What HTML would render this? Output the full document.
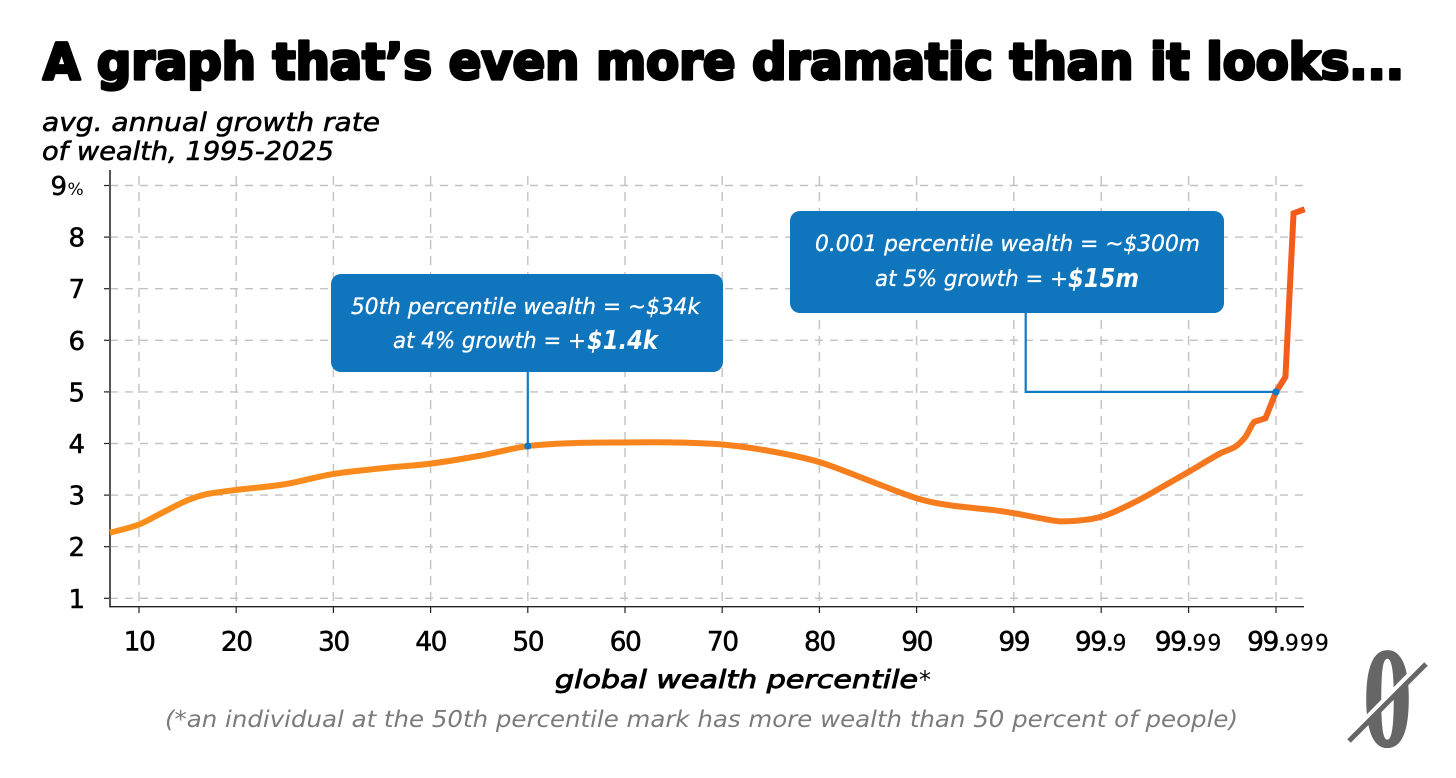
<!DOCTYPE html>
<html lang="en">
<head>
<meta charset="utf-8">
<title>A graph that's even more dramatic than it looks</title>
<style>
html,body{margin:0;padding:0;background:#fff;}
svg{display:block;}
text{font-family:"DejaVu Sans","Liberation Sans",sans-serif;}
</style>
</head>
<body>
<svg id="chart" xmlns="http://www.w3.org/2000/svg" width="1456" height="778" viewBox="0 0 1456 778">
  <defs>
    <linearGradient id="lineGrad" gradientUnits="userSpaceOnUse" x1="110" y1="0" x2="1304" y2="0">
      <stop offset="0" stop-color="#fb8f1b"/>
      <stop offset="0.5" stop-color="#f8821d"/>
      <stop offset="0.95" stop-color="#f5761f"/>
      <stop offset="0.985" stop-color="#f45c1a"/>
      <stop offset="1" stop-color="#f45a18"/>
    </linearGradient>
  </defs>
  <rect width="1456" height="778" fill="#fff"/>

  <text x="43" y="79" font-size="50" font-weight="700" fill="#000" stroke="#000" stroke-width="3.2" stroke-linejoin="round" textLength="1361" lengthAdjust="spacingAndGlyphs">A graph that’s even more dramatic than it looks...</text>

  <g font-size="25.5" font-style="italic" fill="#000" stroke="#000" stroke-width="0.6">
    <text x="42" y="131" textLength="338" lengthAdjust="spacingAndGlyphs">avg. annual growth rate</text>
    <text x="42" y="160" textLength="292" lengthAdjust="spacingAndGlyphs">of wealth, 1995-2025</text>
  </g>

  <g id="grid"></g>
  <g id="axes"></g>
  <g id="series"></g>

  <g id="annotation-lines"></g>

  <g>
    <rect x="331" y="274" width="392" height="98" rx="10" fill="#0f75bc"/>
    <g font-style="italic" fill="#fff" font-size="22.5">
      <text x="351" y="314" stroke="#fff" stroke-width="0.3" textLength="349" lengthAdjust="spacingAndGlyphs">50th percentile wealth = ~$34k</text>
      <text x="393" y="348" stroke="#fff" stroke-width="0.3" textLength="193" lengthAdjust="spacingAndGlyphs">at 4% growth = +</text>
      <text x="587" y="349" font-size="26" font-weight="700" textLength="71" lengthAdjust="spacingAndGlyphs">$1.4k</text>
    </g>
  </g>

  <g>
    <rect x="790" y="211" width="434" height="102" rx="10" fill="#0f75bc"/>
    <g font-style="italic" fill="#fff" font-size="22.5">
      <text x="815" y="251" stroke="#fff" stroke-width="0.3" textLength="385" lengthAdjust="spacingAndGlyphs">0.001 percentile wealth = ~$300m</text>
      <text x="875" y="286" stroke="#fff" stroke-width="0.3" textLength="193" lengthAdjust="spacingAndGlyphs">at 5% growth = +</text>
      <text x="1068" y="287" font-size="26" font-weight="700" textLength="71" lengthAdjust="spacingAndGlyphs">$15m</text>
    </g>
  </g>

  <g id="annotation-dots"></g>

  <text x="555" y="688" font-size="25" font-style="italic" fill="#000" stroke="#000" stroke-width="0.9" textLength="363" lengthAdjust="spacingAndGlyphs">global wealth percentile</text>
  <text x="919" y="688" font-size="24" fill="#000">*</text>
  <text x="165" y="727" font-size="23.5" font-style="italic" fill="#7b7b7b" textLength="1073" lengthAdjust="spacingAndGlyphs">(*an individual at the 50th percentile mark has more wealth than 50 percent of people)</text>

  <g>
    <text x="1363" y="746" font-size="143" font-weight="700" fill="#666" stroke="#666" stroke-width="1.5" style="font-family:'Liberation Serif',serif" textLength="49" lengthAdjust="spacingAndGlyphs">0</text>
    <line x1="1350" y1="735" x2="1424" y2="660" stroke="#fff" stroke-width="5"/>
    <line x1="1349" y1="741" x2="1426" y2="664" stroke="#666" stroke-width="5"/>
  </g>
</svg>

<script>
// ---- chart data ----
const xTickValues = [10, 20, 30, 40, 50, 60, 70, 80, 90, 99, 99.9, 99.99, 99.999];
const xTickLabels = ['10', '20', '30', '40', '50', '60', '70', '80', '90', '99', '99.|9', '99.|99', '99.|999'];
const yTickValues = [1, 2, 3, 4, 5, 6, 7, 8, 9];
const yTickLabels = ['1', '2', '3', '4', '5', '6', '7', '8', '9'];
const percentiles = [7, 10, 12.5, 15, 17, 20, 25, 30, 35, 40, 45, 50, 55, 60, 65, 70, 75, 80, 85, 90, 95.17, 98.37, 99, 99.51, 99.73, 99.9, 99.9624, 99.9805, 99.99, 99.99566, 99.99708, 99.99776, 99.99823, 99.99868, 99.999, 99.99922, 99.99937, 99.99953];
const growthRates = [2.27, 2.43, 2.67, 2.9, 3.02, 3.1, 3.21, 3.41, 3.52, 3.61, 3.76, 3.95, 4.01, 4.02, 4.02, 3.98, 3.85, 3.64, 3.29, 2.94, 2.81, 2.71, 2.65, 2.55, 2.49, 2.58, 2.9, 3.17, 3.45, 3.81, 3.94, 4.13, 4.42, 4.49, 5.0, 5.29, 8.46, 8.54];
const calloutPercentiles = [50, 99.999];
const calloutGrowth = [3.95, 5];
const straightFromPercentile = 99.99823;

// ---- axis functions ----
const NS = 'http://www.w3.org/2000/svg';
function xIndex(p) {
  if (p <= 90) return (p - 10) / 10;
  return 8 + Math.log10(10 / (100 - p));
}
function xScale(p) {
  const i = xIndex(p);
  return i <= 9 ? 139 + 97.2 * i : 1013.8 + 87.4 * (i - 9);
}
function yScale(v) {
  return 598.3 - 51.6 * (v - 1);
}
function make(tag, attrs, parent) {
  const el = document.createElementNS(NS, tag);
  for (const k in attrs) el.setAttribute(k, attrs[k]);
  parent.appendChild(el);
  return el;
}

const grid = document.getElementById('grid');
const axes = document.getElementById('axes');
const series = document.getElementById('series');
const connectors = document.getElementById('annotation-lines');
const dots = document.getElementById('annotation-dots');
const AXIS_LEFT = 110, AXIS_RIGHT = 1304, AXIS_BOTTOM = 606.7, AXIS_TOP = 170;

// gridlines and y ticks
yTickValues.forEach(function (v, i) {
  const y = yScale(v);
  const g = make('line', {x1: AXIS_LEFT, x2: AXIS_RIGHT, y1: y, y2: y, stroke: '#c2c2c2', 'stroke-width': 1.4, 'stroke-dasharray': '8 7'}, grid);
  
  
  const t = make('line', {x1: 104, x2: AXIS_LEFT, y1: y, y2: y, stroke: '#222', 'stroke-width': 1.2}, axes);
  
  
  const lab = make('text', {x: 85, y: y + 9.5, 'font-size': 26, 'text-anchor': 'end', fill: '#000', stroke: '#000', 'stroke-width': 0.5}, axes);
  
  
  if (i === yTickValues.length - 1) {
    lab.setAttribute('x', 67);
    const pct = make('text', {x: 67.5, y: y + 9.5, 'font-size': 17, fill: '#000'}, axes);
    
    
    pct.textContent = '%';
  }
  lab.textContent = yTickLabels[i];
});

// vertical gridlines, x ticks and labels
xTickValues.forEach(function (p, i) {
  const x = xScale(p);
  const g = make('line', {x1: x, x2: x, y1: 176, y2: AXIS_BOTTOM, stroke: '#c2c2c2', 'stroke-width': 1.4, 'stroke-dasharray': '9 7'}, grid);
  
  
  const t = make('line', {x1: x, x2: x, y1: AXIS_BOTTOM, y2: 613, stroke: '#222', 'stroke-width': 1.2}, axes);
  
  
  const parts = xTickLabels[i].split('|');
  const lab = make('text', {x: i === xTickValues.length - 1 ? x + 12.5 : x, y: 650.7, 'font-size': 26.5, 'text-anchor': 'middle', fill: '#000', stroke: '#000', 'stroke-width': 0.5}, axes);
  
  
  const main = make('tspan', {'letter-spacing': -1.5}, lab);
  main.textContent = parts[0];
  if (parts[1]) {
    const small = make('tspan', {'font-size': 22, 'letter-spacing': 1, 'stroke-width': 0.2}, lab);
    small.textContent = parts[1];
  }
});

// axis lines
const yAxisLine = make('line', {x1: AXIS_LEFT, x2: AXIS_LEFT, y1: AXIS_TOP, y2: AXIS_BOTTOM + 0.7, stroke: '#555', 'stroke-width': 2}, axes);


const xAxisLine = make('line', {x1: AXIS_LEFT, x2: AXIS_RIGHT, y1: AXIS_BOTTOM, y2: AXIS_BOTTOM, stroke: '#222', 'stroke-width': 1.4}, axes);



// smooth series path (cubic through the points), straight over the final kinked stretch
function seriesPath(ps, xs, ys) {
  const n = xs.length, m = [];
  m[0] = (ys[1] - ys[0]) / (xs[1] - xs[0]);
  m[n - 1] = (ys[n - 1] - ys[n - 2]) / (xs[n - 1] - xs[n - 2]);
  for (let i = 1; i < n - 1; i++) m[i] = (ys[i + 1] - ys[i - 1]) / (xs[i + 1] - xs[i - 1]);
  let s = 'M' + xs[0].toFixed(2) + ' ' + ys[0].toFixed(2);
  for (let i = 0; i < n - 1; i++) {
    if (ps[i] >= straightFromPercentile) {
      s += ' L' + xs[i + 1].toFixed(2) + ' ' + ys[i + 1].toFixed(2);
      continue;
    }
    const h = (xs[i + 1] - xs[i]) / 3;
    s += ' C' + (xs[i] + h).toFixed(2) + ' ' + (ys[i] + m[i] * h).toFixed(2) + ' ' +
      (xs[i + 1] - h).toFixed(2) + ' ' + (ys[i + 1] - m[i + 1] * h).toFixed(2) + ' ' +
      xs[i + 1].toFixed(2) + ' ' + ys[i + 1].toFixed(2);
  }
  return s;
}
const px = percentiles.map(xScale);
const py = growthRates.map(yScale);
const curve = make('path', {d: seriesPath(percentiles, px, py), fill: 'none', stroke: 'url(#lineGrad)', 'stroke-width': 6, 'stroke-linejoin': 'miter'}, series);



// callout connectors and dots
const c0x = xScale(calloutPercentiles[0]), c0y = yScale(calloutGrowth[0]);
const c1x = xScale(calloutPercentiles[1]), c1y = yScale(calloutGrowth[1]);
const conn0 = make('path', {d: 'M' + c0x + ' 372 V' + c0y, fill: 'none', stroke: '#0f7ac6', 'stroke-width': 2.2}, connectors);


const conn1 = make('path', {d: 'M1025.7 313 V' + c1y + ' H' + c1x, fill: 'none', stroke: '#0f7ac6', 'stroke-width': 2.2}, connectors);


const dot0 = make('circle', {cx: c0x, cy: c0y, r: 3.6, fill: '#0b7acb'}, dots);


const dot1 = make('circle', {cx: c1x, cy: c1y, r: 3.6, fill: '#0b7acb'}, dots);


</script>
</body>
</html>
